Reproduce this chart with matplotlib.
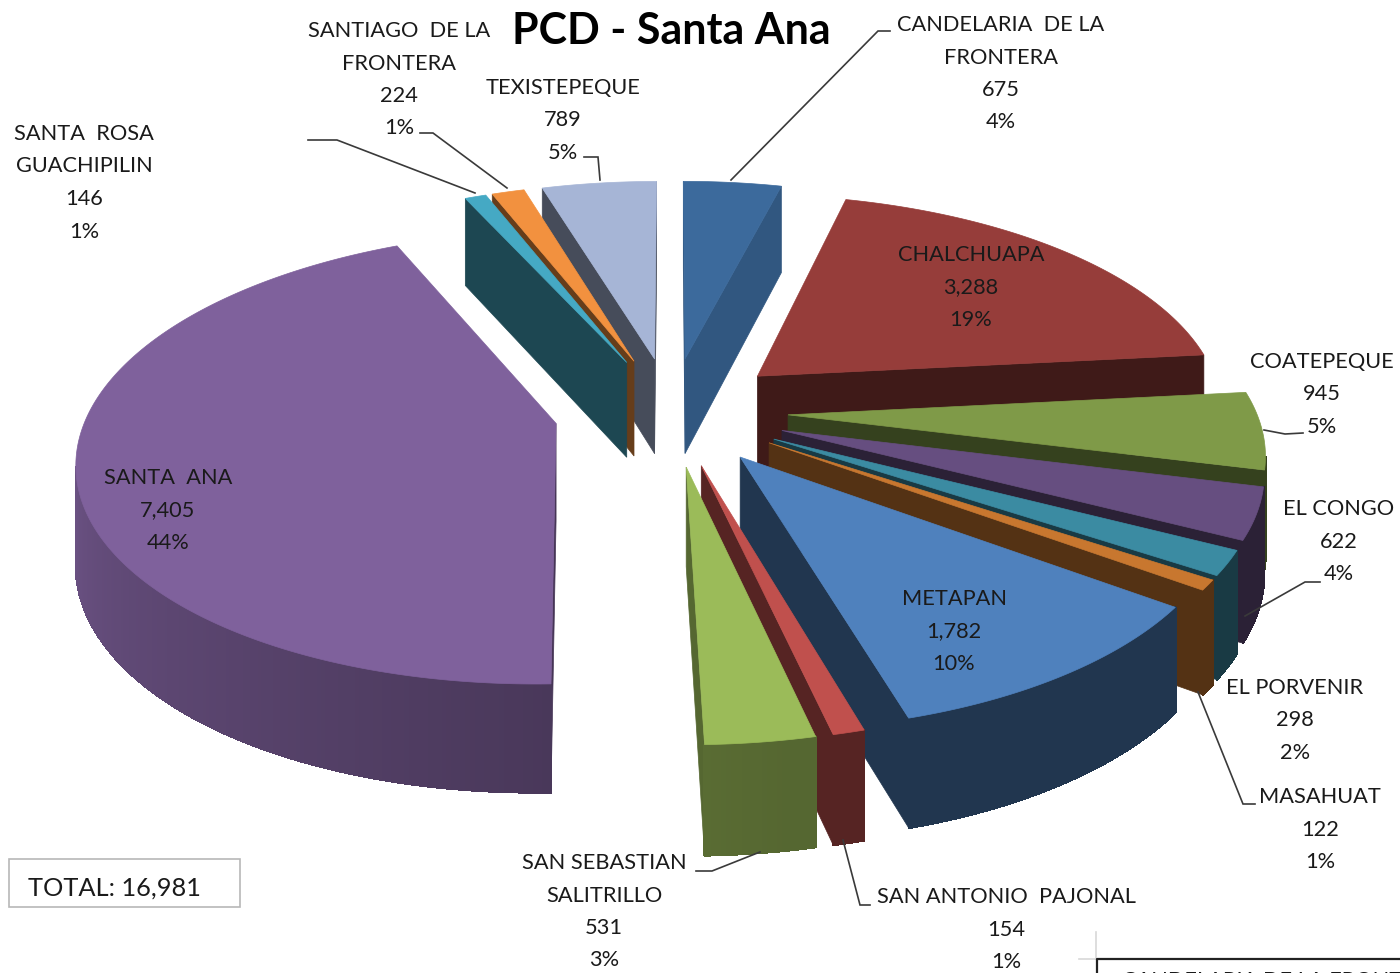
import numpy as np
import matplotlib
matplotlib.use("Agg")
import matplotlib.pyplot as plt
from matplotlib.patches import Polygon, Rectangle

# Step 1: chart values, clockwise from 12 o'clock
names = [
    ["CANDELARIA  DE LA", "FRONTERA"], ["CHALCHUAPA"], ["COATEPEQUE"], ["EL CONGO"],
    ["EL PORVENIR"], ["MASAHUAT"], ["METAPAN"], ["SAN ANTONIO  PAJONAL"],
    ["SAN SEBASTIAN", "SALITRILLO"], ["SANTA  ANA"], ["SANTA  ROSA", "GUACHIPILIN"],
    ["SANTIAGO  DE LA", "FRONTERA"], ["TEXISTEPEQUE"],
]
values = [675, 3288, 945, 622, 298, 122, 1782, 154, 531, 7405, 146, 224, 789]
percents = [4, 19, 5, 4, 2, 1, 10, 1, 3, 44, 1, 1, 5]
total_label = "TOTAL: 16,981"

# Step 2: styles and layout (pixel space of the picture)
top_colors = ["#3c6a9c", "#963d3a", "#7f9a48", "#664e80", "#3b8ba2", "#c8772f", "#4f81bd",
              "#c0504d", "#9bbb59", "#7f619c", "#45a9c4", "#f2913f", "#a6b5d6"]
side_shade = [0.82, 0.42, 0.42, 0.42, 0.42, 0.42, 0.42, 0.45, 0.55, 0.55, 0.42, 0.42, 0.42]
label_pos = [(1001, 25), (971, 255), (1322, 362), (1339, 509), (1295, 688), (1320, 797), (954, 599),
             (1006, 897), (604, 863), (168, 478), (84, 134), (399, 31), (563, 88)]
leaders = [
    [(731, 180), (878, 31), (890, 31)], [(1264, 430), (1285, 434), (1303, 433)],
    [(1245, 616), (1305, 582), (1320, 582)], [(1198, 692), (1243, 804), (1255, 804)],
    [(843, 840), (860, 905), (870, 905)], [(760, 852), (712, 871), (696, 871)],
    [(475, 193), (337, 140), (308, 140)], [(507, 188), (433, 133), (420, 133)],
    [(600, 180), (598, 157), (584, 157)],
]
cx, cy = 671, 411
scale_x, scale_y = 468, 218
persp = 0.148
depth = 97
depth_persp = 0.1
explode = 0.25
line_step = 32.5
font = "Lato"
text_color = "#1a1a1a"


def project(x, y, z=0.0):
    w = 1 + persp * y
    return cx + scale_x * x / w, cy - scale_y * y / w + depth * z / (1 + depth_persp * y)


def darker(color, f):
    return tuple(c * f for c in matplotlib.colors.to_rgb(color))


def signed_area(pts):
    p = np.array(pts)
    q = np.roll(p, -1, axis=0)
    return np.sum(p[:, 0] * q[:, 1] - q[:, 0] * p[:, 1]) / 2


def rim_shade(theta, base):
    # only the left part of the rim catches light
    if theta < 170:
        return base
    return np.interp(theta, [170, 270], [0.55, 0.87])


fig = plt.figure(figsize=(14, 9.73), dpi=100)
ax = fig.add_axes([0, 0, 1, 1])
ax.set_xlim(0, 1400)
ax.set_ylim(973, 0)
ax.axis("off")

# Step 3: build the wedges
angles = np.cumsum([0] + values) / sum(values) * 360
mids = (angles[:-1] + angles[1:]) / 2
order = np.argsort(-np.cos(np.radians(mids)))

for i in order:
    t0, t1 = angles[i], angles[i + 1]
    ex = explode * np.sin(np.radians(mids[i]))
    ey = explode * np.cos(np.radians(mids[i]))
    arc = np.radians(np.linspace(t0, t1, max(int((t1 - t0) * 2), 2) + 1))
    px = ex + np.sin(arc)
    py = ey + np.cos(arc)
    top = [project(a, b) for a, b in zip(px, py)]
    bot = [project(a, b, 1) for a, b in zip(px, py)]
    apex_t = project(ex, ey)
    apex_b = project(ex, ey, 1)
    side = darker(top_colors[i], side_shade[i])

    # radial faces, keep only those facing the viewer
    start_face = [apex_t, top[0], bot[0], apex_b]
    end_face = [apex_t, top[-1], bot[-1], apex_b]
    if signed_area(start_face) < 0:
        ax.add_patch(Polygon(start_face, fc=side, ec=side, lw=0.5))
    if signed_area(end_face) > 0:
        ax.add_patch(Polygon(end_face, fc=side, ec=side, lw=0.5))

    # outer rim in short pieces so it can be shaded, front part only
    for k in range(len(arc) - 1):
        if top[k + 1][0] >= top[k][0]:
            continue
        c = darker(top_colors[i], rim_shade(np.degrees(arc[k]), side_shade[i]))
        ax.add_patch(Polygon([top[k], top[k + 1], bot[k + 1], bot[k]], fc=c, ec=c, lw=1.0,
                             antialiased=False))

    ax.add_patch(Polygon([apex_t] + top, fc=top_colors[i], ec=top_colors[i], lw=0.5))

# Step 4: leaders and labels
for pts in leaders:
    xs, ys = zip(*pts)
    ax.plot(xs, ys, color="#3a3a3a", lw=1.2, solid_joinstyle="miter")

for name, v, p, (x, y) in zip(names, values, percents, label_pos):
    lines = name + [f"{v:,}", f"{p}%"]
    for j, line in enumerate(lines):
        ax.text(x, y + j * line_step, line, family=font, fontsize=15.7, color=text_color,
                ha="center", va="center")

ax.text(671, 31, "PCD - Santa Ana", family=font, fontsize=31, fontweight="bold",
        color="black", ha="center", va="center")

# Step 5: total box and the clipped box at the bottom corner
ax.add_patch(Rectangle((9, 859), 231, 48, fc="white", ec="#b8b8b8", lw=1.2))
ax.text(28, 888, total_label, family=font, fontsize=18.3, color=text_color, ha="left", va="center")

ax.plot([1096, 1096], [932, 959], color="#d8d8d8", lw=1.2)
ax.plot([1079, 1097], [959, 959], color="#d8d8d8", lw=1.2)
ax.plot([1097, 1097, 1400], [973, 959, 959], color="#222222", lw=1.6)
ax.text(1122, 971, "CANDELARIA DE LA FRONTERA", family=font, fontsize=15.7, color=text_color,
        ha="left", va="top", clip_on=True)

fig.savefig("out.png", dpi=100)
